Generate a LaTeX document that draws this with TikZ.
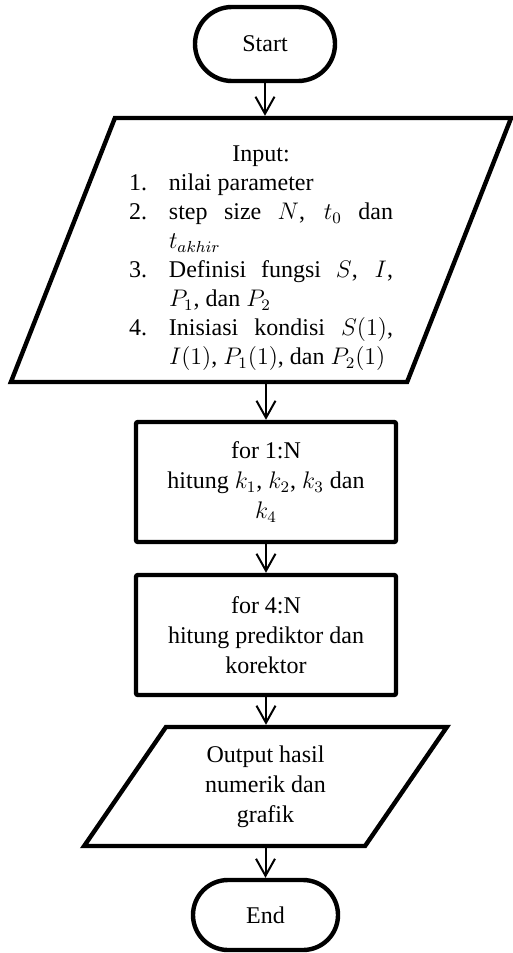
\documentclass[tikz,border=0pt]{standalone}
\usepackage{fontspec}
\setmainfont{Liberation Serif}
\usetikzlibrary{arrows.meta,shapes.geometric,shapes.misc}

% item with hanging number
\newcommand{\itm}[1]{\par\noindent\hangindent=20pt\hangafter=1\makebox[20pt][l]{#1}}

\begin{document}
\begin{tikzpicture}[x=0.5pt, y=-0.5pt, >={Straight Barb[length=8.5pt,width=9.5pt]},
                    font=\fontsize{12}{14.5}\selectfont]
  \tikzstyle{term} = [draw, line width=2.2pt, rounded rectangle, minimum width=70pt,
                      minimum height=37pt, inner sep=0pt]
  \tikzstyle{io}   = [draw, line width=2.2pt, trapezium, trapezium stretches, inner sep=0pt]
  \tikzstyle{proc} = [draw, line width=2.2pt, rounded corners=1pt, minimum width=130pt,
                      minimum height=60pt, align=center, inner sep=0pt,
                      font=\fontsize{12}{15}\selectfont]
  \tikzstyle{arr}  = [->, line width=1pt]

  \useasboundingbox (0,0) rectangle (513,953);

  \node[term] (start) at (265,44) {Start};

  % input data
  \node[io, trapezium left angle=68.7, trapezium right angle=111.3,
        minimum width=251pt, minimum height=132pt, text width=132pt,
        align=justify] (input) at (261,250) {%
    {\centering\rule{0pt}{16pt}Input:\par}
    \itm{1.}nilai parameter
    \itm{2.}step size $N$, $t_0$ dan\linebreak $t_{akhir}$
    \itm{3.}Definisi fungsi $S$, $I$,\linebreak $P_1$, dan $P_2$
    \itm{4.}Inisiasi kondisi $S(1)$,\linebreak $I(1)$, $P_1(1)$, dan $P_2(1)$\par};

  \node[proc] (rk) at (266,482) {for 1:N\\ hitung $k_1$, $k_2$, $k_3$ dan\\ $k_4$};
  \node[proc] (pk) at (266,635) {for 4:N\\ hitung prediktor dan\\ korektor};

  % output
  \node[io, trapezium left angle=58.8, trapezium right angle=121.2,
        minimum width=181.5pt, minimum height=59.5pt, align=center,
        font=\fontsize{12}{15}\selectfont] (output) at (265.5,786.5)
        {Output hasil\\ numerik dan\\ grafik};

  \node[term, minimum width=72.5pt, minimum height=35pt] (end) at (265.5,915) {End};

  % arrows
  \draw[arr] (start.south) -- (start.south |- input.north);
  \draw[arr] (rk.north |- input.south) -- (rk.north);
  \draw[arr] (rk.south) -- (rk.south |- pk.north);
  \draw[arr] (pk.south) -- (pk.south |- output.north);
  \draw[arr] (end.north |- output.south) -- (end.north);
\end{tikzpicture}
\end{document}
